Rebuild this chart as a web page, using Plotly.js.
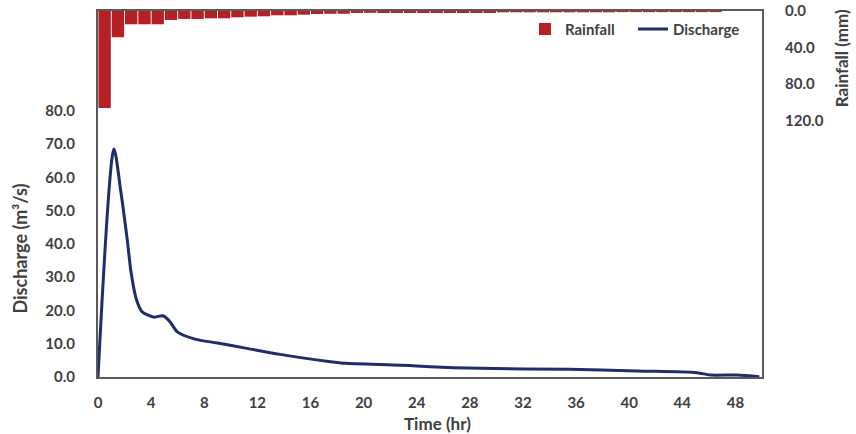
<!DOCTYPE html>
<html><head><meta charset="utf-8">
<script src="https://cdn.plot.ly/plotly-3.0.1.min.js"></script>
<style>html,body{margin:0;padding:0;background:#fff}#chart{width:856px;height:434px}</style>
</head><body><div id="chart"></div>
<script>
const rainHours = [0.5,1.5,2.5,3.5,4.5,5.5,6.5,7.5,8.5,9.5,10.5,11.5,12.5,13.5,14.5,15.5,16.5,17.5,18.5,19.5,20.5,21.5,22.5,23.5,24.5,25.5,26.5,27.5,28.5,29.5,30.5,31.5,32.5,33.5,34.5,35.5,36.5,37.5,38.5,39.5,40.5,41.5,42.5,43.5,44.5,45.5,46.5];
const rainfall = [106,28.7,14.5,14.5,14.5,9.8,8.7,8.7,8,8,6.9,6.2,5.8,4.7,4.7,4,3.3,3,3,2.2,2,2.2,2.2,2.2,2.2,2.2,2.2,2.2,2.2,2.2,1.4,1.4,1.4,1.4,1.4,1.4,1.4,1.4,1.4,1.2,1.2,1.2,1.2,1.2,1.2,1.2,1.2];
const timeHr = [0,1.2,1.7,2.2,2.5,2.9,3.3,4.2,4.9,5.4,6.0,7.3,9,11.2,13.7,17.5,18.7,23.7,25,28.8,35.5,40.6,45.1,46.1,48.1,49.8];
const discharge = [0,68.5,56.3,41.3,31.2,23.2,19.7,18.0,18.4,16.7,13.5,11.4,10.2,8.6,6.8,4.6,4.1,3.4,3.1,2.6,2.3,1.8,1.3,0.6,0.6,0.1];
const timeTicks = [0,4,8,12,16,20,24,28,32,36,40,44,48];
const dischargeTicks = [0,10,20,30,40,50,60,70,80];
const rainTicks = [0,40,80,120];

const txt = '#404040';
const fam = 'Lato, "Open Sans", sans-serif';
const tickFont = {family: fam, size: 15, color: txt, weight: 'bold'};
const axisLine = '#5a5a5a';

const traces = [
  {x: rainHours, y: rainfall, type: 'bar', name: 'Rainfall', yaxis: 'y2',
   width: 0.93, marker: {color: '#B52025', line: {width: 0}}},
  {x: timeHr, y: discharge, type: 'scatter', mode: 'lines', name: 'Discharge',
   line: {color: '#1F2D6B', width: 3, shape: 'spline', smoothing: 0.8}}
];

const layout = {
  width: 856, height: 434,
  margin: {l: 98, r: 94, t: 11, b: 57, pad: 0},
  paper_bgcolor: '#fff', plot_bgcolor: '#fff',
  showlegend: true,
  legend: {orientation: 'h', x: 0.643, y: 0.995, xanchor: 'left', yanchor: 'top',
    font: {family: fam, size: 15, color: txt, weight: 'bold'}, bgcolor: 'rgba(0,0,0,0)',
    entrywidth: 63, entrywidthmode: 'pixels', traceorder: 'normal'},
  xaxis: {range: [0, 50], tickvals: timeTicks, showgrid: false, zeroline: false,
    showline: true, linecolor: axisLine, linewidth: 2, mirror: true, ticks: '',
    tickfont: tickFont, ticklabelstandoff: 11},
  yaxis: {range: [0, 110], tickvals: dischargeTicks, tickformat: '.1f', showgrid: false, zeroline: false,
    showline: true, linecolor: axisLine, linewidth: 2, mirror: true, ticks: '',
    tickfont: tickFont, ticklabelstandoff: 18},
  yaxis2: {range: [400, 0], overlaying: 'y', side: 'right', tickvals: rainTicks, tickformat: '.1f',
    showgrid: false, zeroline: false, showline: true, linecolor: axisLine, linewidth: 2, ticks: '',
    tickfont: tickFont, ticklabelstandoff: 18},
  annotations: [
    {text: 'Time (hr)', xref: 'paper', yref: 'paper', x: 0.5107, y: -0.094, xanchor: 'center', yanchor: 'top',
     showarrow: false, font: {family: fam, size: 17, color: txt, weight: 'bold'}},
    {text: 'Discharge (m³/s)', xref: 'paper', yref: 'paper', x: -0.118, y: 0.35, xanchor: 'center', yanchor: 'middle',
     textangle: -90, showarrow: false, font: {family: fam, size: 18, color: txt, weight: 'bold'}},
    {text: 'Rainfall (mm)', xref: 'paper', yref: 'paper', x: 1.12, y: 0.87, xanchor: 'center', yanchor: 'middle',
     textangle: -90, showarrow: false, font: {family: fam, size: 17, color: txt, weight: 'bold'}}
  ]
};

Plotly.newPlot('chart', traces, layout, {displayModeBar: false, staticPlot: true});
</script></body></html>
